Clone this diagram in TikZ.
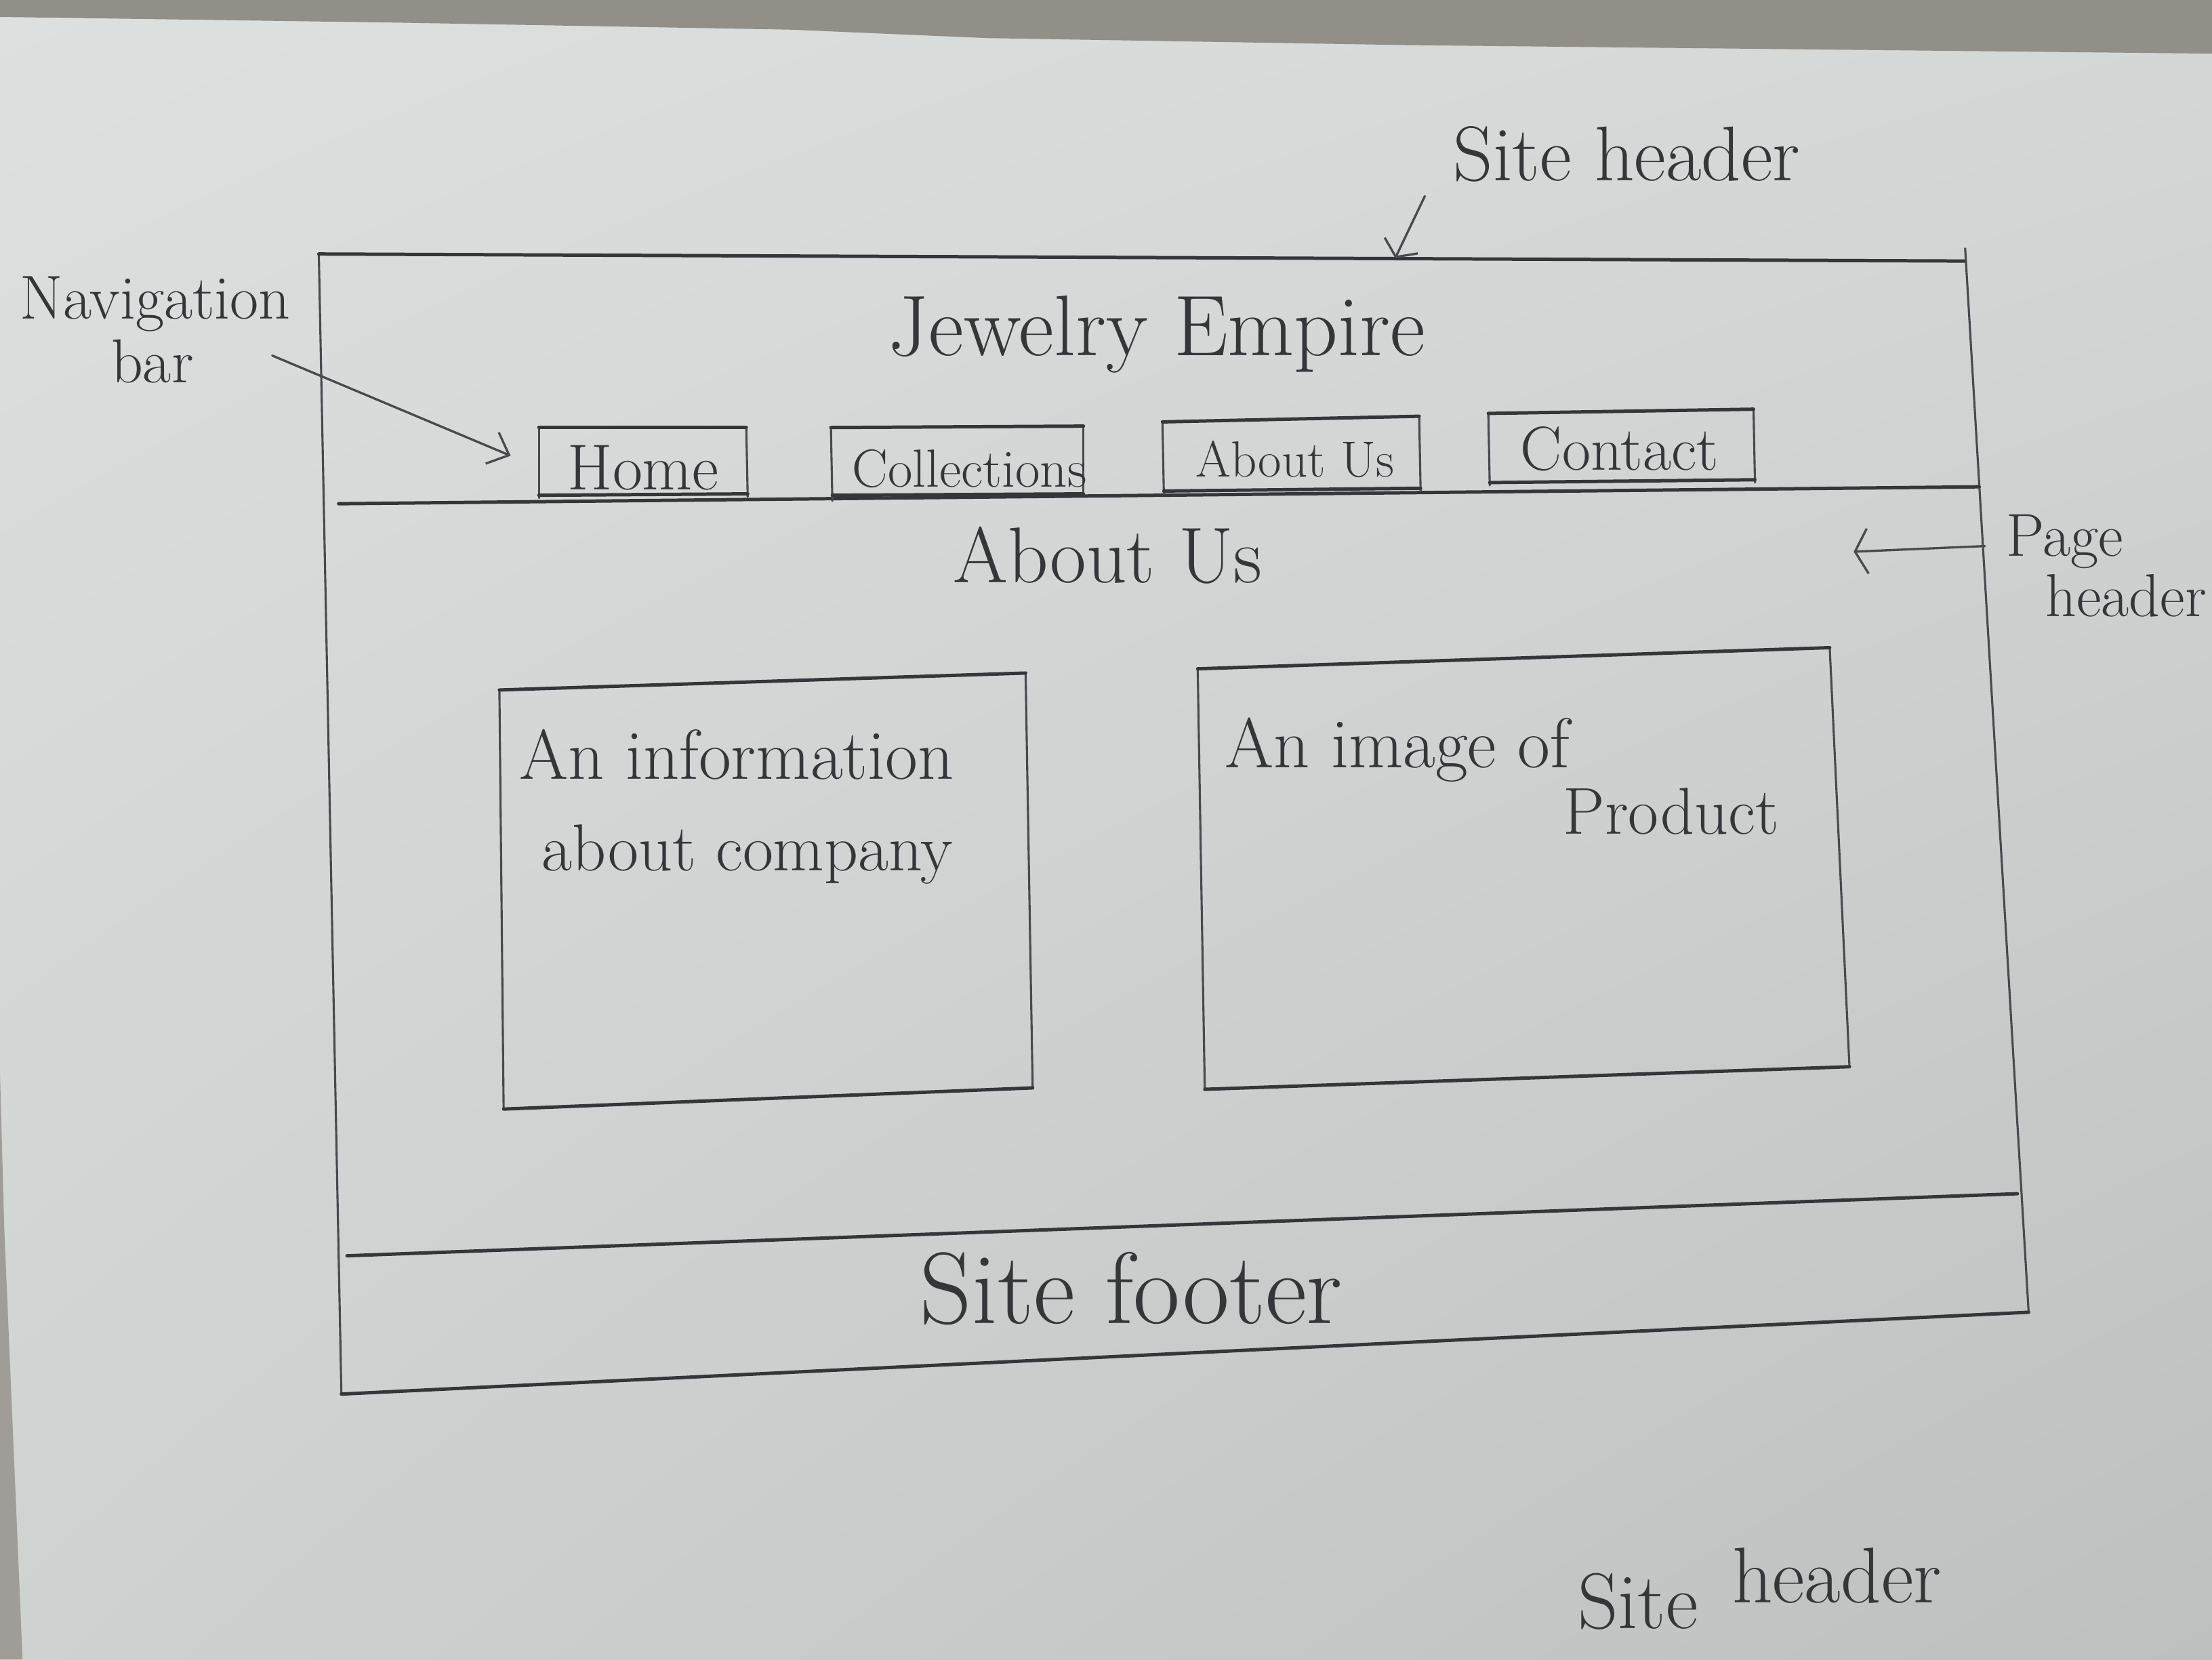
\documentclass[tikz,border=0pt]{standalone}
\usetikzlibrary{arrows.meta,shadings}
\definecolor{paperTL}{RGB}{220,225,224}
\definecolor{paperTR}{RGB}{212,216,215}
\definecolor{paperBL}{RGB}{206,210,209}
\definecolor{paperBR}{RGB}{188,192,191}
\definecolor{band}{RGB}{146,143,137}
\definecolor{edge}{RGB}{160,157,153}
\definecolor{ink}{RGB}{52,54,58}
\definecolor{inklight}{RGB}{72,74,78}
\tikzset{
  pen/.style={draw=ink, line width=2.4pt, line cap=round, line join=round},
  penthin/.style={draw=inklight, line width=1.5pt, line cap=round, line join=round},
  pointer/.style={draw=inklight, line width=1.6pt, line cap=round},
  hand/.style={text=ink, inner sep=0pt, anchor=base},
  handw/.style={text=ink, inner sep=0pt, anchor=base west},
}
\newcommand{\fsz}[1]{\fontsize{#1}{#1}\selectfont}
\begin{document}
\begin{tikzpicture}[x=1pt,y=-1pt]
\useasboundingbox (0,0) rectangle (1568,1176);
% paper sheet with uneven lighting
\shade[upper left=paperTL, upper right=paperTR, lower left=paperBL, lower right=paperBR]
  (0,0) rectangle (1568,1176);
% table showing above the sheet and along its left edge
\fill[band] (0,0) -- (0,12) -- (280,16) -- (560,21) -- (700,27) -- (1000,32) -- (1568,38) -- (1568,0) -- cycle;
\fill[edge] (0,760) -- (3,870) -- (16,1176) -- (0,1176) -- cycle;

% ---- page frame ----
\draw[penthin] (226,180) -- (242,988);
\draw[pen] (226,180) -- (1393,185);
\draw[penthin] (1393,176) -- (1438,930);
\draw[pen] (240,357) -- (1403,345);
\draw[pen] (246,890) -- (1430,846);
\draw[pen] (242,988) -- (1438,930);

% ---- site header ----
\node[hand, font=\fsz{61}] (brand) at (820,252) {Jewelry Empire};

% navigation buttons
\draw[penthin] (382,303) -- (382,353);
\draw[penthin] (529,303) -- (530,352);
\draw[pen] (382,303) -- (529,303);
\draw[pen] (382,351) -- (530,350);
\node[hand, font=\fsz{46}] (home) at (456,347) {Home};

\draw[penthin] (589,303) -- (590,355);
\draw[penthin] (768,302) -- (768,351);
\draw[pen] (589,303) -- (768,302);
\draw[pen] (590,351) -- (768,350);
\node[handw, font=\fsz{38}] (coll) at (604,345) {Collections};

\draw[penthin] (824,299) -- (825,350);
\draw[penthin] (1006,295) -- (1007,348);
\draw[pen] (824,299) -- (1006,295);
\draw[pen] (825,348) -- (1007,346);
\node[hand, font=\fsz{36}] (about) at (918,338) {About Us};

\draw[penthin] (1055,293) -- (1056,344);
\draw[penthin] (1243,290) -- (1244,342);
\draw[pen] (1055,293) -- (1243,290);
\draw[pen] (1056,342) -- (1244,340);
\node[hand, font=\fsz{44}] (contact) at (1148,333) {Contact};

% ---- page header ----
\node[hand, font=\fsz{56}] (ptitle) at (785,413) {About Us};

% ---- content boxes ----
\draw[penthin] (354,489) -- (357,786);
\draw[penthin] (727,477) -- (732,771);
\draw[pen] (354,489) -- (727,477);
\draw[pen] (357,786) -- (732,771);
\node[handw, font=\fsz{50}] (info1) at (368,552) {An information};
\node[handw, font=\fsz{47}] (info2) at (384,617) {about company};

\draw[penthin] (849,474) -- (854,772);
\draw[penthin] (1297,459) -- (1311,756);
\draw[pen] (849,474) -- (1297,459);
\draw[pen] (854,772) -- (1311,756);
\node[handw, font=\fsz{50}] (img1) at (868,544) {An image of};
\node[handw, font=\fsz{47}] (img2) at (1108,591) {Product};

% ---- site footer ----
\node[hand, font=\fsz{72}] (footer) at (802,938) {Site footer};

% ---- annotations ----
\node[handw, font=\fsz{55}] (shlbl) at (1030,128) {Site header};
\coordinate (shfrom) at (1010,139);
\coordinate (shto) at (989,183);
\draw[pointer, -{Straight Barb[length=9pt,width=26pt]}] (shfrom) -- (shto);

\node[hand, font=\fsz{44}] (navlbl) at (110,226) {Navigation};
\node[hand, font=\fsz{44}] (navlbl2) at (108,271) {bar};
\coordinate (navfrom) at (193,252);
\coordinate (navto) at (362,323);
\draw[pointer, -{Straight Barb[length=13pt,width=24pt]}] (navfrom) -- (navto);

\node[handw, font=\fsz{43}] (pglbl) at (1422,394) {Page};
\node[handw, font=\fsz{43}] (pglbl2) at (1450,437) {header};
\coordinate (pgfrom) at (1407,387);
\coordinate (pgto) at (1314,391);
\draw[pointer, -{Straight Barb[length=9pt,width=32pt]}] (pgfrom) -- (pgto);

% second label near the foot of the sheet, words stepping upward
\node[hand, font=\fsz{56}] (shlbl2a) at (1161,1154) {Site};
\node[hand, font=\fsz{56}] (shlbl2b) at (1302,1136) {header};
\end{tikzpicture}
\end{document}
